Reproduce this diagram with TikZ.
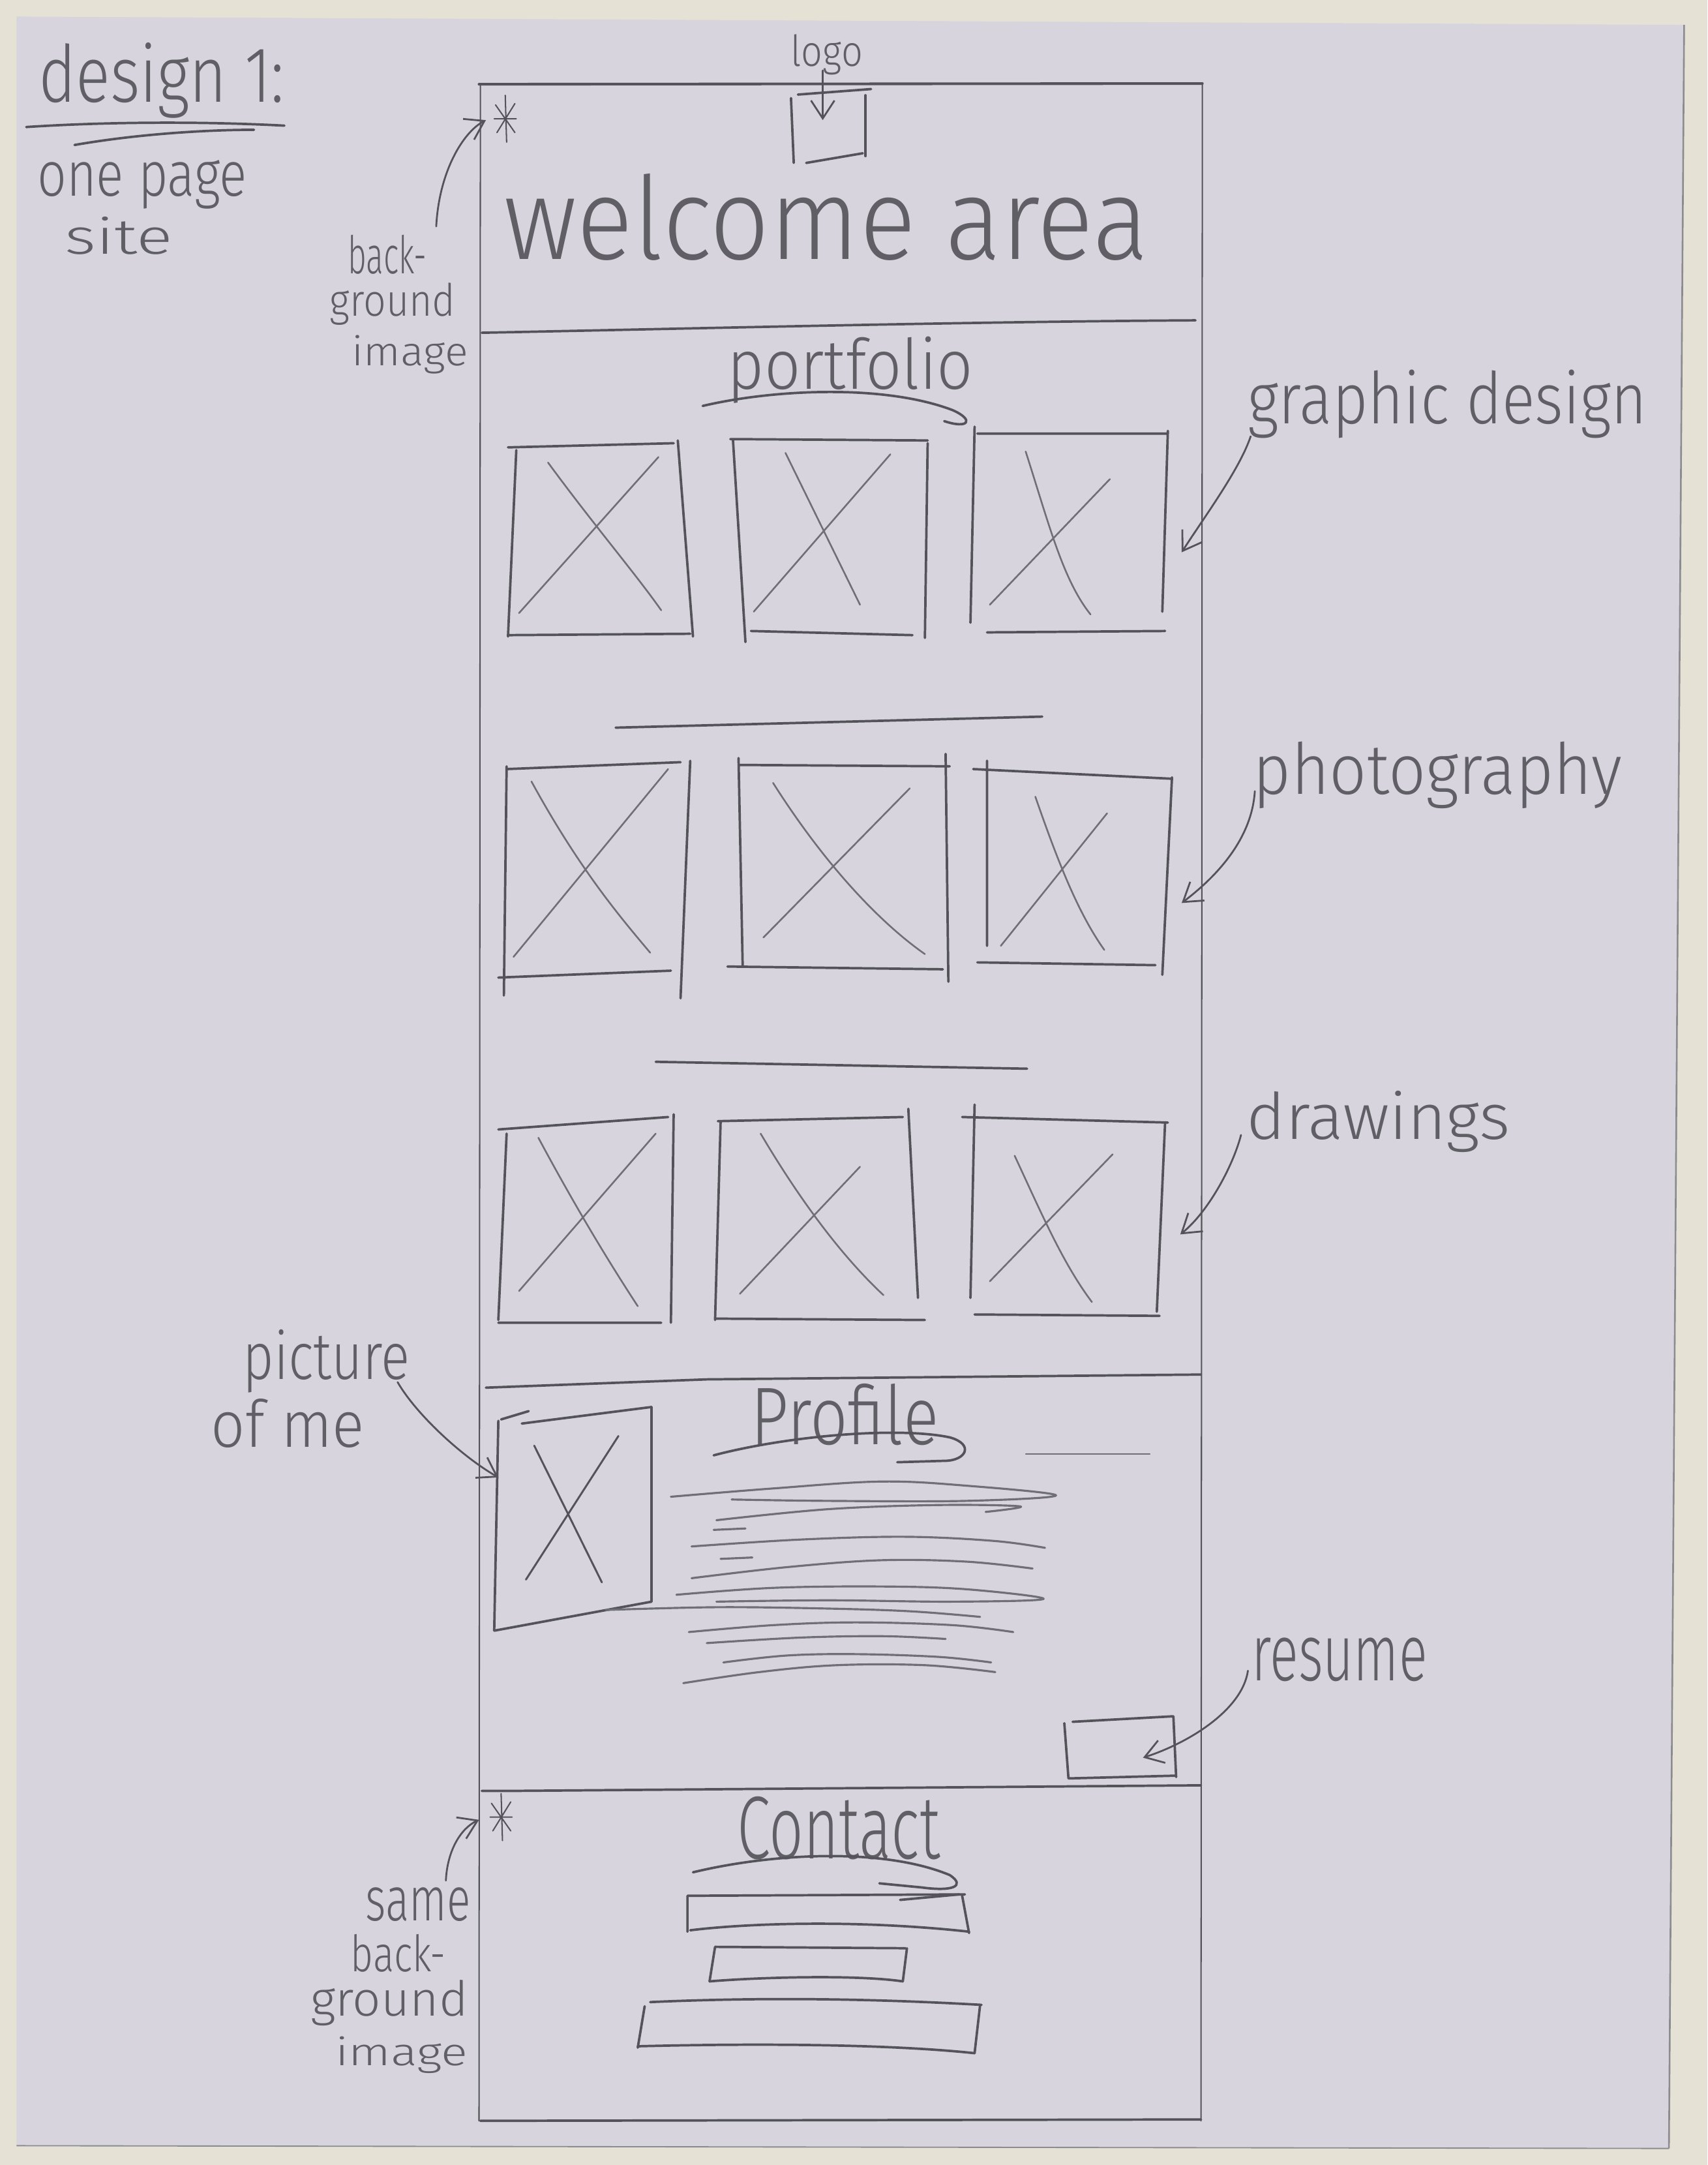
\documentclass[tikz,border=0pt]{standalone}
\usepackage{fontspec}
\usetikzlibrary{arrows.meta}
\newfontfamily\handfont{Fira Sans Light}
\definecolor{paper}{RGB}{215,212,221}
\definecolor{cream}{RGB}{229,226,213}
\definecolor{pencil}{RGB}{84,83,89}
\definecolor{pencilsoft}{RGB}{112,110,118}
\definecolor{ink}{RGB}{96,95,101}
\definecolor{edgegray}{RGB}{140,139,144}
\newlength\dpx
\setlength\dpx{0.2mm}
% handwritten label: width, height above baseline (in sketch units), text
\newcommand\hw[3]{\resizebox{#1\dpx}{#2\dpx}{\handfont #3}}
\tikzset{
  pen/.style={draw=pencil, line width=1pt, line cap=round, line join=round},
  pensoft/.style={draw=pencilsoft, line width=0.7pt, line cap=round, line join=round},
  scribble/.style={draw=pencilsoft, line width=0.85pt, line cap=round, line join=round},
  framel/.style={draw=pencil, line width=0.55pt, line cap=round},
  note/.style={pen, line width=0.75pt, -{Straight Barb[length=2.6mm,width=3.4mm,line width=0.75pt]}},
  hand/.style={inner sep=0pt, outer sep=0pt, text=ink},
  asterisk/.pic={
    \draw[pen, line width=0.55pt] (0,-17) -- (1,17) (-7,-10) -- (7,10) (7,-11) -- (-6,10) (-8,0) -- (8,0);
  }
}
\begin{document}
\begin{tikzpicture}[x=0.2mm, y=-0.2mm]
\useasboundingbox (0,0) rectangle (1237,1568);
% table and sheet of paper
\fill[cream] (0,0) rectangle (1237,1568);
\fill[paper] (12,12) -- (1220,18) -- (1209,1556) -- (12,1554) -- cycle;
\draw[edgegray, line width=0.7pt] (1220,18) -- (1209,1556);
\draw[edgegray, line width=0.5pt] (12,1554) -- (1209,1556);

% ---------- title ----------
\node[hand, anchor=base west] (title) at (28,74) {\hw{178}{43}{design 1:}};
\node[hand, anchor=base west] (sub1) at (27,142) {\hw{152}{26}{one page}};
\node[hand, anchor=base west] (sub2) at (47,184) {\hw{78}{27}{site}};
\draw[pen] (19,92) .. controls (80,88) and (150,88) .. (206,91);
\draw[pen] (54,105) .. controls (100,97) and (150,94) .. (184,94);

% ---------- page frame ----------
\draw[framel] (348,61) -- (347,1536);
\draw[framel] (871,60) -- (870,1536);
\draw[pen, line width=1.1pt] (347,61) -- (871,60.5);
\draw[pen] (348,1536) -- (870,1535);
\draw[pen] (349,241) .. controls (500,238) and (700,233) .. (866,232);
\draw[pen] (352,1005) -- (512,999) -- (870,995.5);
\draw[pen] (349,1297) -- (377,1297) -- (870,1293);

% ---------- welcome area ----------
\pic at (366,86) {asterisk};
\coordinate (ast1) at (352,87);
\node[hand, anchor=base west] (welcome) at (365,188) {\hw{467}{62}{welcome area}};
\node[hand, anchor=base west] (logo) at (573,48) {\hw{52}{23}{logo}};
\draw[pen] (578,68.5) -- (631,64.5);
\draw[pen] (573,71) -- (575,118);
\draw[pen] (627,69) -- (627,113);
\draw[pen] (584,118) -- (625,111);
\coordinate (logotip) at (596,87);
\draw[note] ([shift={(-3,3)}]logo.base) -- (logotip);
\node[hand, anchor=base west] (bga) at (252,198) {\hw{57}{28}{back-}};
\node[hand, anchor=base west] (bgb) at (239,229) {\hw{91}{24}{ground}};
\node[hand, anchor=base west] (bgc) at (255,265) {\hw{84}{22}{image}};
\draw[note] ([shift={(7,-6)}]bga.north east) .. controls (318,125) and (335,96) .. (ast1);

% ---------- portfolio ----------
\node[hand, anchor=base west] (portfolio) at (527,282) {\hw{178}{38}{portfolio}};
\draw[pen] (509,294) .. controls (560,282) and (640,278) .. (690,297)
  .. controls (706,304) and (702,311) .. (684,305);

% row 1: graphic design
\draw[pen] (368,324) -- (488,321) (374,326) -- (368,461) (491,319) -- (502,461) (368,460) -- (500,459);
\draw[pensoft] (397,335) .. controls (430,380) and (460,415) .. (479,442) (477,331) -- (376,444);
\draw[pen] (529,318) -- (672,319) (531,319) -- (540,465) (672,321) -- (670,462) (544,457) -- (661,460);
\draw[pensoft] (569,328) -- (623,438) (645,329) -- (546,443);
\draw[pen] (708,314) -- (846,314) (706,309) -- (703,451) (846,312) -- (842,443) (715,458) -- (844,457);
\draw[pensoft] (743,327) .. controls (760,380) and (770,420) .. (790,445) (804,347) -- (717,438);
\draw[pen] (446,527) -- (755,519);

% row 2: photography
\draw[pen] (367,557) -- (493,552) (367,555) -- (365,721) (500,551) -- (493,723) (361,708) -- (486,703);
\draw[pensoft] (385,566) .. controls (420,630) and (450,665) .. (471,690) (484,557) -- (372,693);
\draw[pen] (535,554) -- (688,555) (535,549) -- (538,700) (685,546) -- (687,711) (527,700) -- (683,702);
\draw[pensoft] (560,567) .. controls (600,630) and (640,670) .. (670,691) (659,571) -- (553,679);
\draw[pen] (705,557) -- (849,564) (715,551) -- (715,685) (849,563) -- (842,706) (708,697) -- (837,699);
\draw[pensoft] (750,577) .. controls (765,620) and (780,660) .. (800,688) (802,589) -- (725,685);
\draw[pen] (475,769) -- (744,774);

% row 3: drawings
\draw[pen] (361,818) -- (484,809) (367,821) -- (361,956) (488,807) -- (486,958) (361,958) -- (479,958);
\draw[pensoft] (390,824) .. controls (420,880) and (445,920) .. (462,946) (475,821) -- (376,935);
\draw[pen] (520,812) -- (654,809) (522,813) -- (518,956) (658,803) -- (665,940) (518,955) -- (670,956);
\draw[pensoft] (551,821) .. controls (580,870) and (610,910) .. (640,938) (623,845) -- (536,937);
\draw[pen] (697,809) -- (846,813) (706,800) -- (703,940) (844,813) -- (838,950) (706,952) -- (840,953);
\draw[pensoft] (735,837) .. controls (755,880) and (770,915) .. (791,943) (806,836) -- (717,928);

% notes on the right
\node[hand, anchor=base west] (gd) at (904,307) {\hw{289}{39}{graphic design}};
\node[hand, anchor=base west] (photo) at (908,575) {\hw{267}{38}{photography}};
\node[hand, anchor=base west] (drawings) at (903,825) {\hw{191}{35}{drawings}};
\coordinate (gdtip) at (856,400);
\coordinate (phtip) at (856,654);
\coordinate (drtip) at (855,894);
\draw[note] ([shift={(2,9)}]gd.base west) .. controls (898,340) and (872,375) .. (gdtip);
\draw[note] ([shift={(1,-2)}]photo.base west) .. controls (907,605) and (885,632) .. (phtip);
\draw[note] ([shift={(-4,-3)}]drawings.base west) .. controls (893,845) and (875,878) .. (drtip);

% ---------- profile ----------
\draw[pen] (363,1028) -- (383,1022) (378,1031) -- (472,1019) (361,1029) -- (358,1181)
  (472,1019) -- (472,1160) (358,1181) -- (472,1160);
\draw[pen, line width=0.8pt] (387,1047) -- (436,1146) (448,1040) -- (381,1144);
\coordinate (pictip) at (361,1070);
\node[hand, anchor=base west] (pic1) at (176,999) {\hw{121}{36}{picture}};
\node[hand, anchor=base west] (pic2) at (153,1048) {\hw{111}{35}{of me}};
\draw[note] ([shift={(-9,2)}]pic1.base east) .. controls (302,1025) and (335,1055) .. (pictip);

\node[hand, anchor=base west] (profile) at (544,1046) {\hw{136}{44}{Profile}};
\draw[pen] (517,1054) .. controls (570,1040) and (650,1033) .. (688,1041)
  .. controls (706,1046) and (700,1058) .. (684,1058) -- (650,1059);
\draw[pensoft, line width=0.45pt] (743,1053) -- (833,1053);

% text lines
\draw[scribble] plot[smooth, tension=0.6] coordinates {(486,1084) (560,1078) (638,1073) (700,1076) (765,1083) (700,1087) (600,1087) (530,1086)};
\draw[scribble] plot[smooth, tension=0.6] coordinates {(519,1101) (600,1093) (680,1090) (739,1091) (714,1095)};
\draw[scribble] (517,1108) -- (540,1107);
\draw[scribble] plot[smooth, tension=0.6] coordinates {(501,1120) (580,1115) (656,1113) (720,1116) (757,1121)};
\draw[scribble] (522,1129) -- (545,1128);
\draw[scribble] plot[smooth, tension=0.6] coordinates {(501,1143) (570,1135) (638,1130) (700,1131) (748,1136)};
\draw[scribble] plot[smooth, tension=0.6] coordinates {(490,1155) (560,1150) (638,1149) (700,1151) (756,1158) (690,1160) (600,1159) (519,1160)};
\draw[scribble] plot[smooth, tension=0.6] coordinates {(439,1166) (520,1164) (600,1165) (660,1167) (710,1171)};
\draw[scribble] plot[smooth, tension=0.6] coordinates {(499,1182) (560,1177) (620,1175) (690,1177) (734,1182)};
\draw[scribble] plot[smooth, tension=0.6] coordinates {(512,1190) (580,1186) (640,1185) (685,1187)};
\draw[scribble] plot[smooth, tension=0.6] coordinates {(524,1204) (570,1199) (620,1198) (680,1200) (718,1204)};
\draw[scribble] plot[smooth, tension=0.6] coordinates {(495,1219) (550,1211) (606,1206) (670,1206) (721,1211)};

% resume button
\draw[pen] (771,1248) -- (774,1288) (777,1247) -- (850,1243) (850,1243) -- (852,1287) (774,1288) -- (852,1286);
\coordinate (restip) at (828,1273);
\node[hand, anchor=base west] (resume) at (907,1217) {\hw{127}{31}{resume}};
\draw[note] ([shift={(-3,-7)}]resume.base west) .. controls (900,1238) and (862,1262) .. (restip);

% ---------- contact ----------
\pic at (363,1316) {asterisk};
\coordinate (ast2) at (347,1318);
\node[hand, anchor=base west] (same1) at (265,1391) {\hw{76}{24}{same}};
\node[hand, anchor=base west] (same2) at (254,1428) {\hw{69}{27}{back-}};
\node[hand, anchor=base west] (same3) at (225,1460) {\hw{114}{26}{ground}};
\node[hand, anchor=base west] (same4) at (243,1496) {\hw{96}{21}{image}};
\draw[note] ([shift={(-18,-5)}]same1.north east) .. controls (324,1340) and (334,1324) .. (ast2);

\node[hand, anchor=base west] (contact) at (534,1346) {\hw{147}{45}{Contact}};
\draw[pen] (502,1356) .. controls (560,1342) and (640,1338) .. (688,1358)
  .. controls (700,1366) and (690,1370) .. (668,1367) -- (637,1364);
\draw[pen] (652,1376) -- (695,1372);
% form fields
\draw[pen] (498,1373) -- (699,1372) (498,1373) -- (498,1399) (697,1373) -- (702,1400);
\draw[pen] (500,1398) .. controls (540,1393) and (620,1390) .. (702,1399);
\draw[pen] (518,1410) -- (656,1411) (518,1410) -- (514,1435) (657,1411) -- (654,1435);
\draw[pen] (514,1435) .. controls (550,1432) and (620,1430) .. (654,1435);
\draw[pen] (471,1450) .. controls (560,1446) and (640,1448) .. (711,1452)
  (467,1453) -- (462,1483) (710,1452) -- (706,1487);
\draw[pen] (462,1482) .. controls (540,1480) and (640,1480) .. (706,1487);
\end{tikzpicture}
\end{document}
